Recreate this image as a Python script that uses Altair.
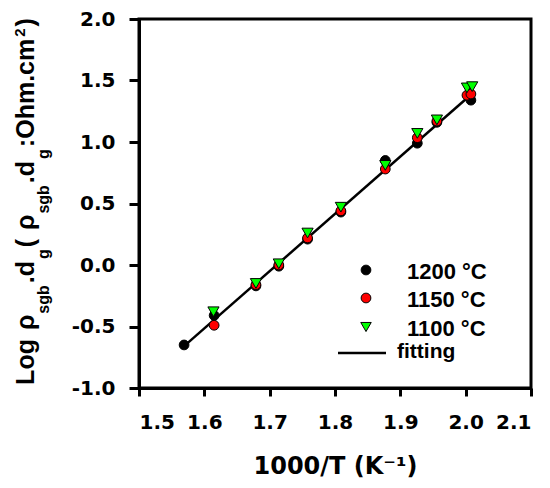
import altair as alt
import pandas as pd

# ---- data ----
x_1200 = [1.569, 1.615, 1.679, 1.714, 1.758, 1.809, 1.877, 1.926, 1.956, 2.008]
y_1200 = [-0.65, -0.41, -0.17, -0.01, 0.21, 0.43, 0.85, 0.99, 1.16, 1.34]
x_1150 = [1.615, 1.679, 1.714, 1.758, 1.809, 1.877, 1.926, 1.956, 2.002, 2.008]
y_1150 = [-0.49, -0.16, 0.00, 0.22, 0.44, 0.78, 1.035, 1.17, 1.38, 1.39]
x_1100 = [1.614, 1.679, 1.714, 1.758, 1.809, 1.877, 1.926, 1.956, 2.002, 2.010]
y_1100 = [-0.38, -0.15, 0.01, 0.26, 0.47, 0.81, 1.07, 1.18, 1.44, 1.45]
fit_x = [1.569, 2.007]
fit_y = [-0.66, 1.38]

series_names = ["1200 °C", "1150 °C", "1100 °C"]
series_fill = ["#000000", "#FF0000", "#00FF00"]
series_shape = ["circle", "circle", "triangle-down"]
fit_name = "fitting"

x_ticks = [1.5, 1.6, 1.7, 1.8, 1.9, 2.0, 2.1]
y_ticks = [-1.0, -0.5, 0.0, 0.5, 1.0, 1.5, 2.0]
x_title = "1000/T (K\u207b\u00b9)"
y_title_parts = ["Log ", "ρ", "sgb", ".d", "g", " (", "ρ", "sgb", ".d", "g", ":Ohm.cm", "2", ")"]
y_title_kind = ["main", "main", "sub", "main", "sub", "main", "main", "sub", "main", "sub", "main", "sup", "main"]

# ---- layout ----
W, H = 392, 369
PAD_L, PAD_T = 131, 11
kind_x = {"main": -105, "sub": -90, "sup": -114}
kind_size = {"main": 25, "sub": 16, "sup": 15}
# approximate advance widths (em) of Liberation Sans Bold
adv = {"L": .611, "o": .611, "g": .611, " ": .278, "ρ": .576, "s": .556, "b": .611,
       ".": .278, "d": .611, "(": .333, ":": .333, "O": .778, "h": .611, "m": .889,
       "c": .556, ")": .333, "2": .556}
gap = 2.0
widths = [sum(adv[c] for c in p) * kind_size[k] for p, k in zip(y_title_parts, y_title_kind)]
total = sum(widths) + gap * (len(widths) - 1)
center_rel = H / 2 - 2
pos = []
cur = center_rel + total / 2
for w in widths:
    pos.append(cur)
    cur -= w + gap

xs = alt.Scale(domain=[1.5, 2.1], nice=False, zero=False)
ys = alt.Scale(domain=[-1.0, 2.0], nice=False, zero=False)

axis_common = dict(
    grid=False, domainColor="black", domainWidth=3, tickColor="black", tickWidth=3,
    labelColor="black", titleColor="black", labelFont="DejaVu Sans", labelFontSize=20,
    labelFontWeight="bold",
)
x_axis = alt.Axis(values=x_ticks, format=".1f", title=x_title, tickSize=8, labelPadding=16,
                  titleFont="DejaVu Sans", titleFontSize=24, titleFontWeight="bold",
                  titlePadding=22, **axis_common)
y_axis = alt.Axis(values=y_ticks, title=None, tickSize=10, labelPadding=14,
                  labelExpr="replace(format(datum.value, '.1f'), '\u2212', '-')",
                  **axis_common)

fit_df = pd.DataFrame({"x": fit_x, "y": fit_y})
line = alt.Chart(fit_df).mark_line(color="black", strokeWidth=2.5).encode(
    x=alt.X("x:Q", scale=xs, axis=x_axis),
    y=alt.Y("y:Q", scale=ys, axis=y_axis),
)

layers = []
for xv, yv, fill, shape in zip([x_1200, x_1150, x_1100], [y_1200, y_1150, y_1100],
                               series_fill, series_shape):
    df = pd.DataFrame({"x": xv, "y": yv})
    size = 95 if shape == "circle" else 125
    layers.append(
        alt.Chart(df).mark_point(shape=shape, filled=True, fill=fill, stroke="black",
                                 strokeWidth=1, size=size, opacity=1).encode(
            x=alt.X("x:Q", scale=xs, axis=x_axis),
            y=alt.Y("y:Q", scale=ys, axis=y_axis),
        )
    )

one = pd.DataFrame({"a": [0]})

# ---- legend (manual, inside plot) ----
leg_rows_y = [251, 279, 308]
leg_items = []
for name, fill, shape, ry in zip(series_names, series_fill, series_shape, leg_rows_y):
    size = 95 if shape == "circle" else 110
    leg_items.append(
        alt.Chart(one).mark_point(shape=shape, filled=True, fill=fill, stroke="black",
                                  strokeWidth=1, size=size, opacity=1).encode(
            x=alt.value(227), y=alt.value(ry))
    )
    leg_items.append(
        alt.Chart(pd.DataFrame({"label": [name]})).mark_text(
            align="left", baseline="middle", font="Liberation Sans", fontSize=22,
            fontWeight="bold", color="black").encode(
            x=alt.value(268), y=alt.value(ry + 2), text="label:N")
    )
leg_items.append(
    alt.Chart(one).mark_rule(color="black", strokeWidth=2.5).encode(
        x=alt.value(199), x2=alt.value(247), y=alt.value(334))
)
leg_items.append(
    alt.Chart(pd.DataFrame({"label": [fit_name]})).mark_text(
        align="left", baseline="middle", font="Liberation Sans", fontSize=21,
        fontWeight="bold", color="black").encode(
        x=alt.value(258), y=alt.value(333), text="label:N")
)

# ---- y title with sub/superscripts ----
title_items = []
for part, kind, p in zip(y_title_parts, y_title_kind, pos):
    title_items.append(
        alt.Chart(pd.DataFrame({"t": [part]})).mark_text(
            angle=270, align="left", baseline="alphabetic", font="Liberation Sans",
            fontSize=kind_size[kind], fontWeight="bold", color="black").encode(
            x=alt.value(kind_x[kind]), y=alt.value(p), text="t:N")
    )

chart = alt.layer(line, *layers, *leg_items, *title_items).properties(
    width=W, height=H,
    autosize=alt.AutoSizeParams(type="none"),
    padding={"left": PAD_L, "top": PAD_T, "right": 11, "bottom": 92},
    background="white",
).configure_view(stroke="black", strokeWidth=3)

chart.save("out.html", embed_options={"renderer": "svg", "actions": False})
